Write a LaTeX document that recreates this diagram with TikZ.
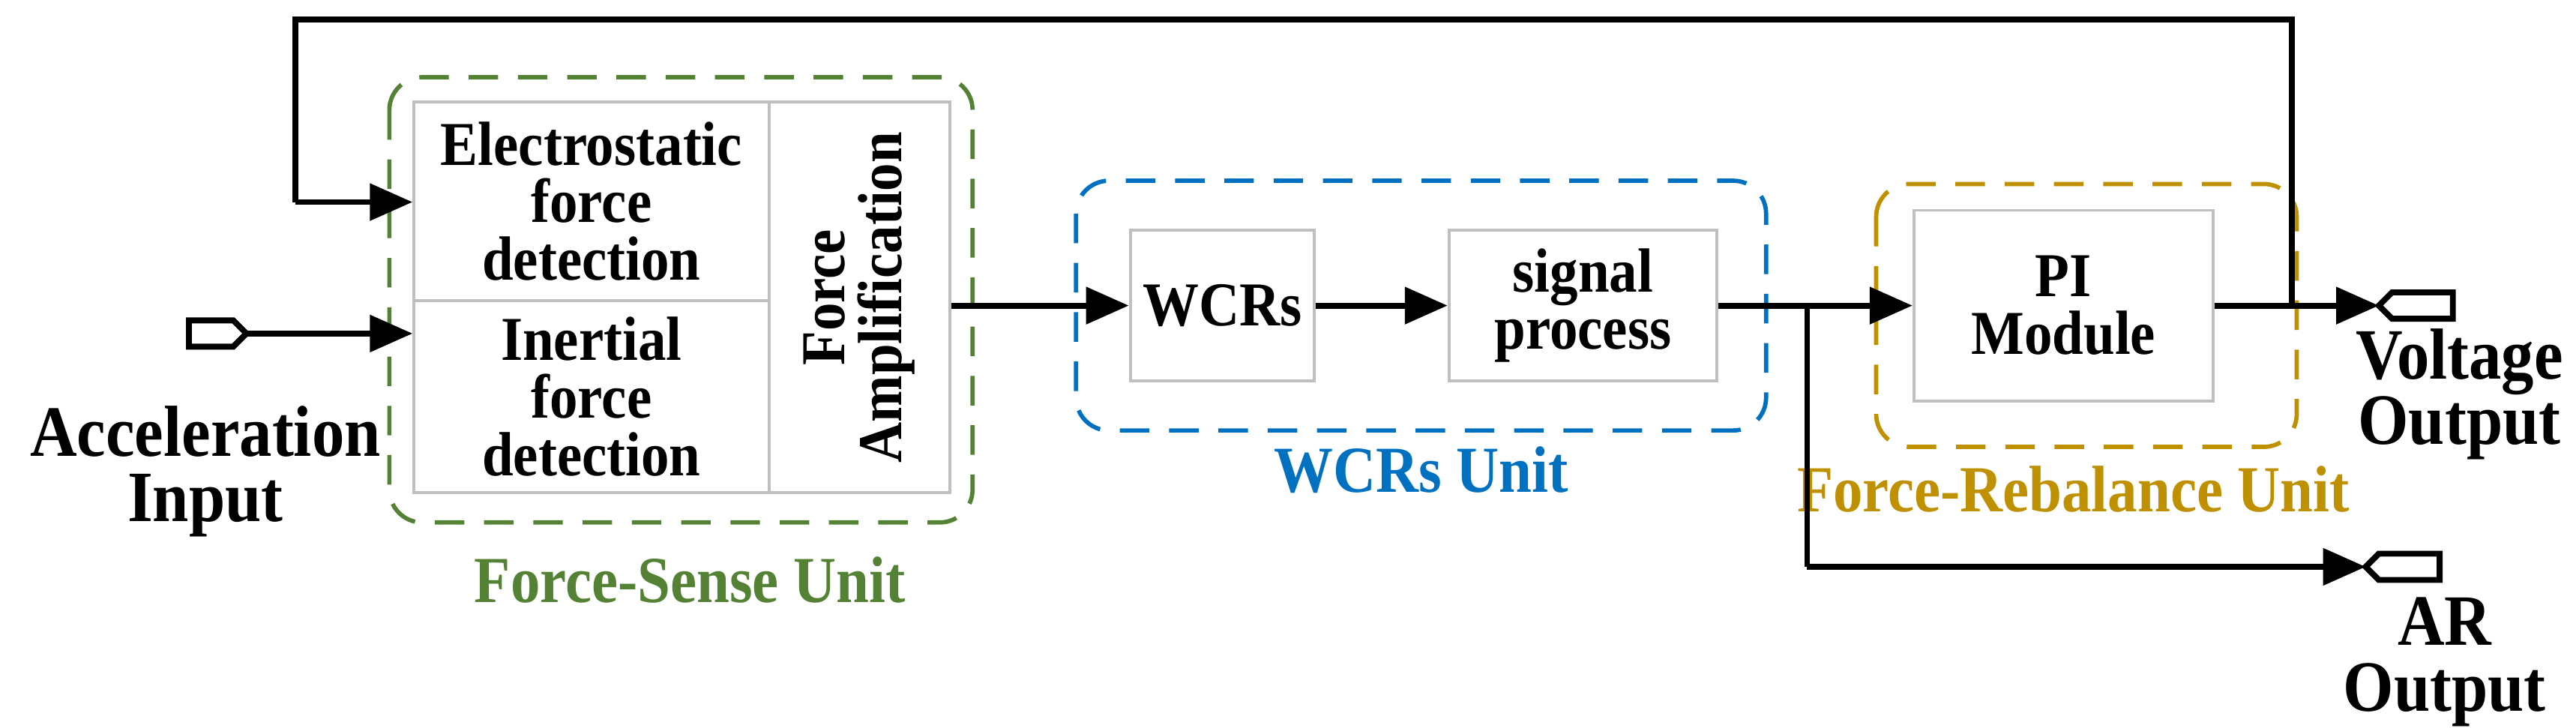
\documentclass[tikz,border=0pt]{standalone}
\usepackage{fontspec}
\setmainfont{Liberation Serif}[FakeStretch=0.9]
\usetikzlibrary{arrows.meta}
\begin{document}
\begin{tikzpicture}[x=0.5pt,y=-0.5pt,
  txt/.style={font=\bfseries\fontsize{19}{17.5}\selectfont,align=center},
  big/.style={font=\bfseries\fontsize{22}{20}\selectfont,align=center},
  ulab/.style={font=\bfseries\fontsize{20}{20}\selectfont,align=center},
  cell/.style={draw=black!25,line width=0.9pt,fill=white,inner sep=0pt,txt},
  unit/.style={dashed,dash pattern=on 9pt off 6pt,line width=1.3pt,rounded corners=10pt},
  conn/.style={line width=1.8pt,-{Triangle[length=13pt,width=11pt]}},
  wire/.style={line width=1.8pt},
  port/.style={line width=1.8pt,fill=white}]
\useasboundingbox (0,0) rectangle (1568,443);
\definecolor{gr}{RGB}{84,130,53}
\definecolor{bl}{RGB}{0,112,192}
\definecolor{og}{RGB}{191,144,0}
% unit frames
\draw[unit,draw=gr] (237,47) rectangle (592,318);
\draw[unit,draw=bl] (655,110) rectangle (1075,262);
\draw[unit,draw=og] (1142,112) rectangle (1398,272);
\node[ulab,text=gr] (fsu) at (420,353) {Force-Sense Unit};
\node[ulab,text=bl] (wu) at (865,286) {WCRs Unit};
\node[ulab,text=og] (fru) at (1262,298) {Force-Rebalance Unit};
% cells
\node[cell,minimum width=108pt,minimum height=60.5pt] (es) at (360,122.5) {Electrostatic\\force\\detection};
\node[cell,minimum width=108pt,minimum height=58.5pt] (in) at (360,241.5) {Inertial\\force\\detection};
\node[cell,minimum width=55pt,minimum height=119pt] (fa) at (523,181) {};
\node[txt,rotate=90] (fat) at (523,181) {Force\\Amplification};
\node[cell,minimum width=56pt,minimum height=46pt] (wcr) at (744,186) {WCRs};
\node[cell,minimum width=81.5pt,minimum height=46pt] (sp) at (963.5,186) {signal\\process};
\node[cell,minimum width=91pt,minimum height=58pt] (pi) at (1256,186) {PI\\Module};
% coordinates
\coordinate (j1) at (1100,186);
\coordinate (j2) at (1395,186);
\coordinate (t1) at (1395,12);
\coordinate (t2) at (180,12);
\coordinate (t3) at (180,123);
\coordinate (b1) at (1100,345);
\coordinate (vo) at (1448,186);
\coordinate (ao) at (1440,345);
\coordinate (ai) at (150,203);
% connectors
\draw[conn] (fa.east |- 0,186) -- (wcr.west);
\draw[conn] (wcr) -- (sp);
\draw[conn] (sp.east) -- (pi.west);
\draw[wire] (j1) -- (b1);
\draw[conn] (b1) -- (ao);
\draw[conn] (pi.east) -- (vo);
\draw[wire] (j2) -- (t1) -- (t2) -- (t3);
\draw[conn] (t3) -- (es.west |- t3);
\draw[conn] (ai) -- (in.west |- ai);
% ports
\draw[port] (ai) -- (142,195) -- (115,195) -- (115,211) -- (142,211) -- cycle;
\draw[port] (vo) -- (1456,178) -- (1493,178) -- (1493,194) -- (1456,194) -- cycle;
\draw[port] (ao) -- (1448,337) -- (1485,337) -- (1485,353) -- (1448,353) -- cycle;
% labels
\node[big] (acc) at (125,287) {Acceleration\\Input};
\node[big] (vol) at (1497,240) {Voltage\\Output};
\node[big] (aro) at (1488,403) {AR\\Output};
\end{tikzpicture}
\end{document}
